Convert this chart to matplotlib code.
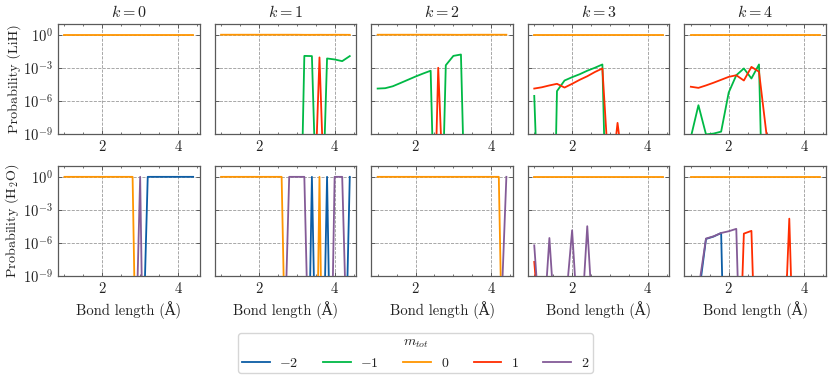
import matplotlib
matplotlib.use("Agg")
import matplotlib.pyplot as plt
from matplotlib.lines import Line2D
from matplotlib.ticker import MultipleLocator, NullLocator

# ── Data (tiny values sit below the 1e-9 floor) ──
bond = [1.0, 1.2, 1.4, 1.6, 1.8, 2.0, 2.2, 2.4, 2.6, 2.8, 3.0, 3.2, 3.4, 3.6, 3.8, 4.0, 4.2, 4.4]
m_tot = [-2, -1, 0, 1, 2]
k_values = [0, 1, 2, 3, 4]

lih_k0 = {
    0: [1, 1, 1, 1, 1, 1, 1, 1, 1, 1, 1, 1, 1, 1, 1, 1, 1, 1],
}
lih_k1 = {
    -1: [0, 0, 0, 0, 0, 0, 0, 0, 0, 0, 1e-35, 1.2e-2, 1.15e-2, 1e-25, 7e-3, 5.7e-3, 4e-3, 1.15e-2],
    0: [1, 1, 1, 1, 1, 1, 1, 1, 1, 1, 1, 0.98, 0.98, 0.99, 0.98, 0.99, 0.99, 0.98],
    1: [0, 0, 0, 0, 0, 0, 0, 0, 0, 0, 0, 0, 1e-22, 8.7e-3, 1e-22, 0, 0, 0],
}
lih_k2 = {
    -1: [1.3e-5, 1.4e-5, 2.1e-5, 4.1e-5, 8.1e-5, 1.6e-4, 3.0e-4, 5.4e-4, 1e-30, 1.7e-3, 1.2e-2, 1.6e-2, 1e-29, 0, 0, 0, 0, 0],
    0: [1, 1, 1, 1, 1, 1, 1, 1, 1, 1, 0.99, 0.98, 1, 1, 1, 1, 1, 1],
    1: [0, 0, 0, 0, 0, 0, 0, 1e-30, 1e-3, 1e-20, 0, 0, 0, 0, 0, 0, 0, 0],
}
lih_k3 = {
    -1: [2.8e-6, 1e-25, 1e-40, 7.6e-6, 7e-5, 1.4e-4, 2.6e-4, 5.4e-4, 1e-3, 2e-3, 1e-31, 0, 0, 0, 0, 0, 0, 0],
    0: [1, 1, 1, 1, 1, 1, 1, 1, 1, 1, 1, 1, 1, 1, 1, 1, 1, 1],
    1: [1.3e-5, 1.7e-5, 2.5e-5, 3.5e-5, 1.6e-5, 3.5e-5, 8.1e-5, 1.7e-4, 4.1e-4, 8.7e-4, 5e-15, 1e-8, 3e-14, 0, 0, 0, 0, 0],
}
lih_k4 = {
    -1: [5e-10, 4e-7, 9e-10, 1.07e-9, 1.6e-9, 5.7e-6, 2.1e-4, 8.7e-4, 1.07e-4, 2e-3, 1e-31, 0, 0, 0, 0, 0, 0, 0],
    0: [1, 1, 1, 1, 1, 1, 1, 1, 1, 1, 1, 1, 1, 1, 1, 1, 1, 1],
    1: [1.9e-5, 1.5e-5, 2.5e-5, 4.4e-5, 8.1e-5, 1.5e-4, 2.1e-4, 7e-5, 1.2e-3, 4.4e-4, 8e-10, 0, 0, 0, 0, 0, 0, 0],
}

h2o_k0 = {
    -2: [0, 0, 0, 0, 0, 0, 0, 0, 0, 0, 1e-25, 1, 1, 1, 1, 1, 1, 1],
    0: [1, 1, 1, 1, 1, 1, 1, 1, 1, 1, 1e-40, 0, 0, 0, 0, 0, 0, 0],
    2: [0, 0, 0, 0, 0, 0, 0, 0, 0, 1e-27, 1, 1e-45, 0, 0, 0, 0, 0, 0],
}
h2o_k1 = {
    -2: [0, 0, 0, 0, 0, 0, 0, 0, 0, 0, 0, 1e-40, 1, 1e-35, 1, 1e-40, 1e-30, 1],
    0: [1, 1, 1, 1, 1, 1, 1, 1, 1, 1e-34, 0, 0, 1e-50, 1, 1e-50, 0, 0, 0],
    2: [0, 0, 0, 0, 0, 0, 0, 0, 1e-25, 1, 1, 1, 1e-29, 0, 1e-40, 1, 1, 1e-25],
}
h2o_k2 = {
    0: [1, 1, 1, 1, 1, 1, 1, 1, 1, 1, 1, 1, 1, 1, 1, 1, 1, 1e-36],
    2: [0, 0, 0, 0, 0, 0, 0, 0, 0, 0, 0, 0, 0, 0, 0, 0, 1e-18, 1],
}
h2o_k3 = {
    0: [1, 1, 1, 1, 1, 1, 1, 1, 1, 1, 1, 1, 1, 1, 1, 1, 1, 1],
    1: [1.9e-8, 1e-16, 0, 0, 0, 0, 0, 0, 0, 0, 0, 0, 0, 0, 0, 0, 0, 0],
    2: [6e-7, 1e-16, 2.8e-6, 1e-16, 2e-13, 1.4e-5, 1e-16, 3.3e-5, 1e-16, 0, 0, 0, 0, 0, 0, 0, 0, 0],
}
h2o_k4 = {
    -2: [1e-13, 1e-11, 2.3e-6, 3.8e-6, 8e-6, 1e-35, 0, 0, 0, 0, 0, 0, 0, 0, 0, 0, 0, 0],
    0: [1, 1, 1, 1, 1, 1, 1, 1, 1, 1, 1, 1, 1, 1, 1, 1, 1, 1],
    1: [0, 0, 0, 0, 0, 0, 1e-26, 7e-6, 1.25e-5, 1e-27, 0, 0, 1e-21, 1.6e-4, 1e-27, 0, 0, 0],
    2: [1e-12, 6e-11, 2.5e-6, 4e-6, 8e-6, 1.15e-5, 1.9e-5, 2e-29, 0, 0, 0, 0, 0, 0, 0, 0, 0, 0],
}

rows = [
    ("Probability (LiH)", [lih_k0, lih_k1, lih_k2, lih_k3, lih_k4]),
    ("Probability (H$_2$O)", [h2o_k0, h2o_k1, h2o_k2, h2o_k3, h2o_k4]),
]

# ── Style ──
COLORS = {-2: "#0C5DA5", -1: "#00B945", 0: "#FF9500", 1: "#FF2C00", 2: "#845B97"}
TEXT = "#222222"
SPINE = "#5a5a5a"
FS = 10.5

plt.rcParams["font.family"] = ["cmr10", "DejaVu Serif"]
plt.rcParams["mathtext.fontset"] = "cm"
plt.rcParams["axes.formatter.use_mathtext"] = True
plt.rcParams["axes.unicode_minus"] = False
plt.rcParams["font.size"] = FS

fig, axes = plt.subplots(2, 5, figsize=(8.31, 3.80), dpi=100, sharex=True, sharey=True)
fig.subplots_adjust(left=0.0698, right=0.994, top=0.9376, bottom=0.2737, wspace=0.106, hspace=0.29)

for r, (ylabel, panels) in enumerate(rows):
    for c, data in enumerate(panels):
        ax = axes[r, c]
        ax.set_yscale("log")
        for m in m_tot:
            if m in data:
                ax.plot(bond, data[m], color=COLORS[m], lw=1.3, zorder=3)
        ax.set_ylim(1e-9, 10)
        ax.set_yticks([1e-9, 1e-6, 1e-3, 1])
        ax.yaxis.set_minor_locator(NullLocator())
        ax.xaxis.set_major_locator(MultipleLocator(2))
        ax.xaxis.set_minor_locator(MultipleLocator(0.5))
        ax.tick_params(which="both", direction="in", top=True, right=True,
                       colors=SPINE, labelcolor=TEXT, labelsize=FS)
        ax.tick_params(which="major", length=3, width=0.7)
        ax.tick_params(which="minor", length=1.6, width=0.6)
        ax.tick_params(axis="x", labelbottom=True)
        ax.grid(True, which="major", ls="--", color="#9a9a9a", lw=0.6, zorder=0)
        for s in ax.spines.values():
            s.set_color(SPINE)
            s.set_linewidth(0.9)
        if r == 0:
            ax.set_title(f"$k={k_values[c]}$", fontsize=11.5, color=TEXT, pad=5)
        else:
            ax.set_xlabel("Bond length (Å)", fontsize=FS, color=TEXT)
        if c == 0:
            ax.set_ylabel(ylabel, fontsize=10.2, color=TEXT, labelpad=1.5)

handles = [Line2D([0], [0], color=COLORS[m], lw=1.3) for m in m_tot]
labels = [f"${m}$" for m in m_tot]
leg = fig.legend(handles, labels, loc="upper center", bbox_to_anchor=(0.5, 0.124), ncol=5,
                 title="$m_{tot}$", fontsize=10, title_fontsize=10, frameon=True,
                 fancybox=True, edgecolor="#cccccc", handlelength=2.0, columnspacing=1.75,
                 handletextpad=0.7, borderpad=0.25, borderaxespad=0.0)
for t in leg.get_texts():
    t.set_color(TEXT)
leg.get_title().set_color(TEXT)

fig.savefig("out.png", dpi=100, facecolor="white")
plt.close(fig)
